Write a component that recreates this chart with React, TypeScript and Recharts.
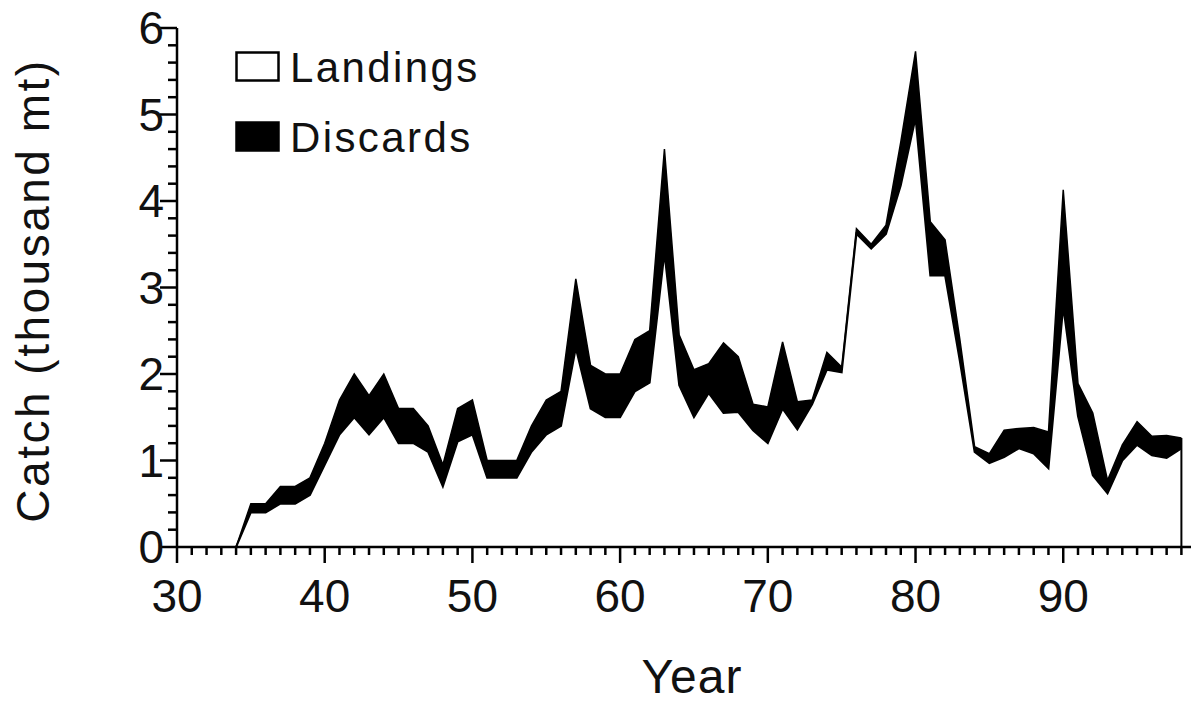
import { AreaChart, Area, XAxis, YAxis, Legend, ReferenceLine, Label } from 'recharts'

// catch by year (thousand mt), 1934-1998
const years = [
  34, 35, 36, 37, 38, 39, 40, 41, 42, 43, 44, 45, 46, 47, 48, 49, 50, 51, 52, 53, 54, 55,
  56, 57, 58, 59, 60, 61, 62, 63, 64, 65, 66, 67, 68, 69, 70, 71, 72, 73, 74, 75, 76, 77,
  78, 79, 80, 81, 82, 83, 84, 85, 86, 87, 88, 89, 90, 91, 92, 93, 94, 95, 96, 97, 98,
]
const landings = [
  0, 0.4, 0.4, 0.5, 0.5, 0.6, 0.95, 1.3, 1.5, 1.3, 1.5, 1.2, 1.2, 1.1, 0.7, 1.22, 1.3, 0.8,
  0.8, 0.8, 1.1, 1.3, 1.4, 2.3, 1.6, 1.5, 1.5, 1.8, 1.9, 3.4, 1.87, 1.5, 1.78, 1.55, 1.56,
  1.35, 1.2, 1.6, 1.36, 1.65, 2.05, 2.02, 3.62, 3.45, 3.62, 4.18, 4.96, 3.14, 3.14, 2.15,
  1.1, 0.97, 1.04, 1.14, 1.08, 0.91, 2.78, 1.51, 0.83, 0.62, 1.0, 1.18, 1.06, 1.03, 1.14,
]
const discards = [
  0, 0.1, 0.1, 0.2, 0.2, 0.2, 0.25, 0.4, 0.5, 0.45, 0.5, 0.4, 0.4, 0.3, 0.25, 0.38, 0.4, 0.2,
  0.2, 0.2, 0.3, 0.4, 0.4, 0.8, 0.5, 0.5, 0.5, 0.6, 0.6, 1.2, 0.58, 0.55, 0.34, 0.81, 0.64,
  0.3, 0.42, 0.77, 0.32, 0.05, 0.2, 0.06, 0.06, 0.05, 0.1, 0.5, 0.77, 0.62, 0.41, 0.25,
  0.06, 0.11, 0.31, 0.23, 0.3, 0.42, 1.35, 0.38, 0.72, 0.15, 0.18, 0.27, 0.22, 0.26, 0.12,
]
const seriesNames = ['Landings', 'Discards']

const xMajorTicks = [30, 40, 50, 60, 70, 80, 90]
const yMajorTicks = [0, 1, 2, 3, 4, 5, 6]

// one minor tick per year, five per unit on the catch axis
const xTicks = Array.from({ length: 69 }, (_, i) => 30 + i)
const yTicks = Array.from({ length: 31 }, (_, i) => (i * 2) / 10)

const data = years.map((year, i) => ({
  year,
  landings: landings[i],
  discards: discards[i],
}))

const FONT = '"Liberation Sans", Arial, Helvetica, sans-serif'
const INK = '#000'

function YearTick({ x, y, payload }: any) {
  const major = xMajorTicks.includes(payload.value)
  return (
    <g>
      <line x1={x} y1={y} x2={x} y2={y + (major ? 16 : 8)} stroke={INK} strokeWidth={2.5} />
      {major && (
        <text x={x} y={y + 65} textAnchor="middle" fontSize={46} fontFamily={FONT} fill="#111">
          {payload.value}
        </text>
      )}
    </g>
  )
}

function CatchTick({ x, y, payload }: any) {
  const major = yMajorTicks.includes(payload.value)
  return (
    <g>
      <line x1={x - (major ? 17 : 9)} y1={y} x2={x} y2={y} stroke={INK} strokeWidth={2.5} />
      {major && (
        <text
          x={x - 13}
          y={y}
          textAnchor="end"
          dominantBaseline="central"
          fontSize={46}
          fontFamily={FONT}
          fill="#111"
        >
          {payload.value}
        </text>
      )}
    </g>
  )
}

function LegendBox() {
  return (
    <svg width={380} height={120} style={{ display: 'block', overflow: 'visible' }}>
      {seriesNames.map((name, i) => (
        <g key={name} transform={`translate(0, ${i * 70})`}>
          <rect
            x={1.5}
            y={1.5}
            width={42}
            height={28}
            fill={i === 0 ? '#fff' : INK}
            stroke={INK}
            strokeWidth={2.5}
          />
          <text x={55} y={31} fontSize={42} fontFamily={FONT} letterSpacing={2.4} fill="#111">
            {name}
          </text>
        </g>
      ))}
    </svg>
  )
}

export default function App() {
  const last = data[data.length - 1]
  return (
    <div style={{ position: 'absolute', left: 0, top: 0, background: '#fff' }}>
      <AreaChart width={1191} height={702} data={data} margin={{ top: 28, right: 0, bottom: 0, left: 0 }}>
        <XAxis
          dataKey="year"
          type="number"
          domain={[30, 98.65]}
          ticks={xTicks}
          interval={0}
          tick={<YearTick />}
          tickLine={false}
          tickSize={0}
          tickMargin={0}
          height={155}
          axisLine={{ stroke: INK, strokeWidth: 2.5 }}
        >
          <Label
            content={({ viewBox }: any) => (
              <text
                x={viewBox.x + viewBox.width / 2 + 8}
                y={viewBox.y + 146}
                textAnchor="middle"
                fontSize={48}
                fontFamily={FONT}
                letterSpacing={1}
                fill="#111"
              >
                Year
              </text>
            )}
          />
        </XAxis>
        <YAxis
          type="number"
          domain={[0, 6]}
          ticks={yTicks}
          interval={0}
          tick={<CatchTick />}
          tickLine={false}
          tickSize={0}
          tickMargin={0}
          width={177}
          axisLine={{ stroke: INK, strokeWidth: 2.5 }}
        >
          <Label
            content={({ viewBox }: any) => {
              const cx = 33
              const cy = viewBox.y + viewBox.height / 2 + 3
              return (
                <text
                  x={cx}
                  y={cy}
                  transform={`rotate(-90, ${cx}, ${cy})`}
                  textAnchor="middle"
                  dominantBaseline="central"
                  fontSize={46}
                  fontFamily={FONT}
                  letterSpacing={2.5}
                  fill="#111"
                >
                  Catch (thousand mt)
                </text>
              )
            }}
          />
        </YAxis>
        <Legend
          layout="horizontal"
          verticalAlign="middle"
          align="center"
          content={<LegendBox />}
          wrapperStyle={{ position: 'absolute', left: 235, top: 51, width: 380, height: 120 }}
        />
        <Area
          type="linear"
          dataKey="landings"
          name={seriesNames[0]}
          stackId="catch"
          fill="#fff"
          fillOpacity={1}
          stroke={INK}
          strokeWidth={2}
          isAnimationActive={false}
        />
        <Area
          type="linear"
          dataKey="discards"
          name={seriesNames[1]}
          stackId="catch"
          fill={INK}
          fillOpacity={1}
          stroke={INK}
          strokeWidth={1.5}
          isAnimationActive={false}
        />
        <ReferenceLine
          segment={[
            { x: last.year, y: 0 },
            { x: last.year, y: last.landings + last.discards },
          ]}
          stroke={INK}
          strokeWidth={2}
        />
      </AreaChart>
    </div>
  )
}
